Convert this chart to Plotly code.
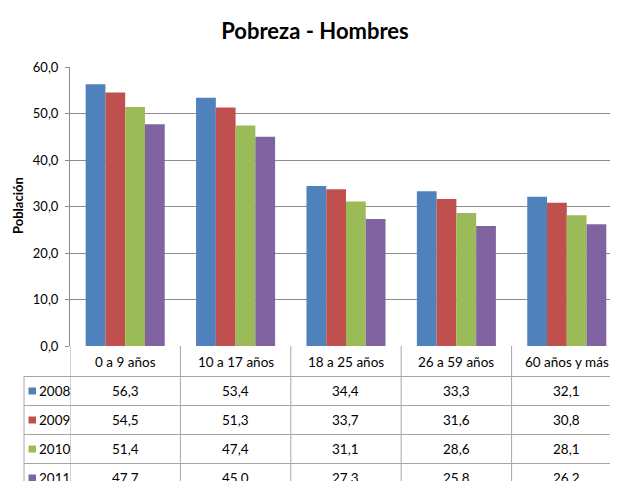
import plotly.graph_objects as go

categories = ["0 a 9 años", "10 a 17 años", "18 a 25 años", "26 a 59 años", "60 años y más"]
years = ["2008", "2009", "2010", "2011"]
v2008 = [56.3, 53.4, 34.4, 33.3, 32.1]
v2009 = [54.5, 51.3, 33.7, 31.6, 30.8]
v2010 = [51.4, 47.4, 31.1, 28.6, 28.1]
v2011 = [47.7, 45.0, 27.3, 25.8, 26.2]
series = [v2008, v2009, v2010, v2011]
colors = ["#4F81BD", "#C0504D", "#9BBB59", "#8064A2"]

OFF = 8  # page body margin
W, H = 618 - OFF, 481 - OFF
ML, MT = 70 - OFF, 67 - OFF
PB = 346 - OFF
MR = 0
MB = H - PB
PW, PH = W - ML - MR, PB - MT
FONT = "Lato, Roboto, sans-serif"
GRID = "#8c8c8c"
TLINE = "#a6a6a6"


def px(x):  # reference page x -> paper
    return (x - OFF - ML) / PW


def py(y):  # reference page y -> paper
    return (PB - (y - OFF)) / PH


fig = go.Figure()
for name, vals, c in zip(years, series, colors):
    fig.add_trace(go.Bar(x=categories, y=vals, name=name, marker=dict(color=c, line=dict(width=0))))

shapes = []
annotations = []
row_bounds = [376.5, 405.5, 434.5, 463.5]
row_centers = [391, 420, 449, 478]
for i in range(len(categories) + 1):
    shapes.append(dict(type="line", xref="x", yref="paper", x0=i - 0.5, x1=i - 0.5,
                       y0=0, y1=py(500), line=dict(color=TLINE, width=1)))
for b in row_bounds:
    shapes.append(dict(type="line", xref="paper", yref="paper", x0=px(24), x1=1,
                       y0=py(b), y1=py(b), line=dict(color=TLINE, width=1)))
shapes.append(dict(type="line", xref="paper", yref="paper", x0=px(24), x1=px(24),
                   y0=py(row_bounds[0]), y1=py(500), line=dict(color=TLINE, width=1)))

for cat in categories:
    annotations.append(dict(x=cat, xref="x", y=py(362), yref="paper", text=cat, showarrow=False,
                            font=dict(family=FONT, size=13.5, color="#000"), yanchor="middle"))
for r, (name, vals, c) in enumerate(zip(years, series, colors)):
    yc = row_centers[r]
    shapes.append(dict(type="rect", xref="paper", yref="paper", x0=px(28.5), x1=px(36),
                       y0=py(yc + 3.5), y1=py(yc - 3.5), fillcolor=c, line=dict(width=0)))
    annotations.append(dict(x=px(37), xref="paper", y=py(yc), yref="paper", text=name, showarrow=False,
                            xanchor="left", yanchor="middle", font=dict(family=FONT, size=13.5, color="#000")))
    for cat, v in zip(categories, vals):
        annotations.append(dict(x=cat, xref="x", y=py(yc), yref="paper", text=f"{v:.1f}".replace(".", ","),
                                showarrow=False, yanchor="middle",
                                font=dict(family=FONT, size=13.5, color="#000")))

annotations.append(dict(x=px(18), xref="paper", y=py(206), yref="paper", text="<b>Población</b>",
                        textangle=-90, showarrow=False, xanchor="center", yanchor="middle",
                        font=dict(family=FONT, size=13, color="#000")))

fig.update_layout(
    width=W, height=H,
    margin=dict(l=ML, r=MR, t=MT, b=MB, pad=0),
    paper_bgcolor="white", plot_bgcolor="white",
    separators=",.",
    showlegend=False,
    barmode="group", bargap=0.284, bargroupgap=0,
    title=dict(text="<b>Pobreza - Hombres</b>", x=(315 - OFF) / W, xanchor="center",
               y=1 - (31 - OFF) / H, yanchor="middle",
               font=dict(family=FONT, size=22, color="#000")),
    xaxis=dict(range=[-0.5, 4.464], showticklabels=False, showgrid=False, showline=False, zeroline=False,
               fixedrange=True),
    yaxis=dict(range=[0, 60], dtick=10, tickformat=".1f", showgrid=True, gridcolor=GRID, gridwidth=1,
               showline=True, linecolor=GRID, linewidth=1, zeroline=False, ticks="outside", ticklen=4,
               tickcolor=GRID, ticklabelstandoff=4,
               tickfont=dict(family=FONT, size=13, color="#000")),
    shapes=shapes, annotations=annotations,
)

fig.write_html("out.html")
